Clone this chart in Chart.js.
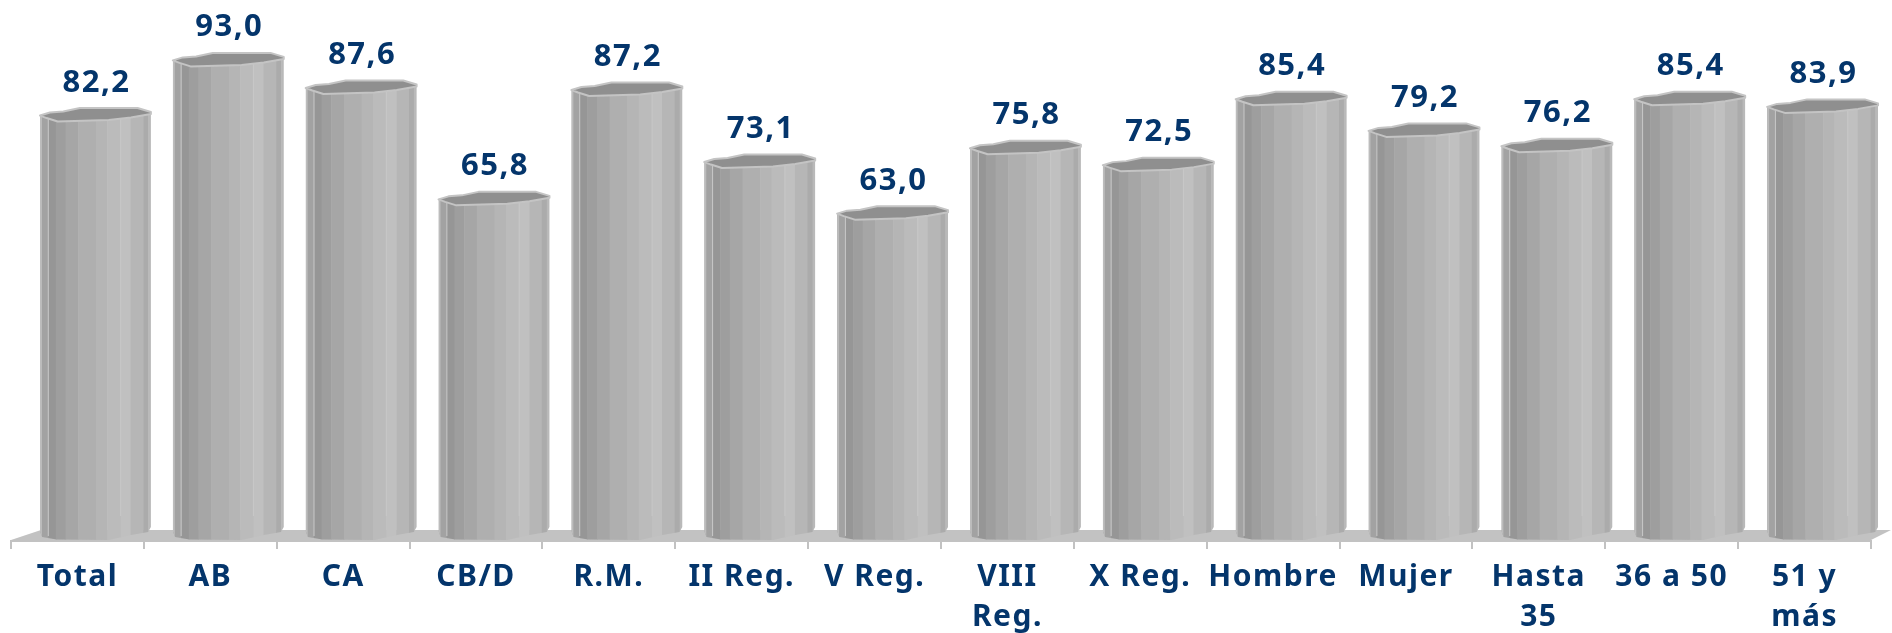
<!DOCTYPE html>
<html lang="es">
  <head>
    <meta charset="utf-8" />
    <title>Grafico de barras</title>
    <script src="https://cdn.jsdelivr.net/npm/chart.js"></script>
    <style>
      html, body { margin: 0; padding: 0; background: #fff; overflow: hidden; }
      .blocker { width: 1892px; height: 633px; }
    </style>
  </head>
  <body>
    <div class="blocker">
      <canvas id="myChart" width="1892" height="633"></canvas>
    </div>
    <script>
      const categories = ["Total", "AB", "CA", "CB/D", "R.M.", "II Reg.", "V Reg.", ["VIII", "Reg."], "X Reg.", "Hombre", "Mujer", ["Hasta", "35"], "36 a 50", ["51 y", "más"]];
      const values = [82.2, 93.0, 87.6, 65.8, 87.2, 73.1, 63.0, 75.8, 72.5, 85.4, 79.2, 76.2, 85.4, 83.9];

      const textColor = "#04356b";
      const floorColor = "#c2c2c2";
      const depthX = 18; // the 3d bars sit to the right of their category

      // vertical strips of the fake cylinder: [end of strip as fraction of width, colour]
      const strips = [
        [0.075, "#a2a2a2"], [0.144, "#969696"], [0.231, "#9e9e9e"], [0.345, "#a6a6a6"],
        [0.505, "#afafaf"], [0.607, "#b5b5b5"], [0.727, "#bbbbbb"], [0.817, "#c0c0c0"],
        [0.931, "#b6b6b6"], [0.976, "#ababab"], [1, "#b9b9b9"]
      ];
      // top face outline: [fraction of width, px from the value]
      const topFace = [[0, -5.5], [0.09, -8.5], [0.21, -9.5], [0.36, -13], [0.88, -13], [1, -9], [1, -7], [0.82, -3.5], [0.62, -1], [0.16, 0.5], [0.06, -3]];
      // bottom of the body, right to left: [fraction of width, px from the base]
      const bottomEdge = [[1, -14], [0.975, -9], [0.82, -6], [0.62, -1], [0.15, -1.5], [0.02, -4], [0, -10]];

      function drawBar(ctx, el, value) {
        const w = el.width;
        const left = el.x - w / 2 + depthX;
        const top = el.y;
        const base = el.base;

        // body, clipped to its curved bottom and the front of the top face
        ctx.save();
        ctx.beginPath();
        ctx.moveTo(left, top - 5);
        ctx.lineTo(left + w, top - 8);
        bottomEdge.forEach((p) => ctx.lineTo(left + p[0] * w, base + p[1]));
        ctx.closePath();
        ctx.clip();
        let from = 0;
        strips.forEach((s) => {
          ctx.fillStyle = s[1];
          ctx.fillRect(left + from * w, top - 13, (s[0] - from) * w + 0.5, base - top + 13);
          from = s[0];
        });
        // thin light lines and edges
        ctx.fillStyle = "#c8c8c8";
        ctx.fillRect(left + 0.075 * w - 0.5, top - 5, 1, base - top);
        ctx.fillRect(left + 0.727 * w - 0.5, top - 5, 1, base - top - 20);
        ctx.fillStyle = "#bcbcbc";
        ctx.fillRect(left, top - 5, 2, base - top);
        ctx.restore();

        // top face
        ctx.beginPath();
        topFace.forEach((p, i) => {
          const x = left + p[0] * w;
          const y = top + p[1];
          if (i === 0) ctx.moveTo(x, y);
          else ctx.lineTo(x, y);
        });
        ctx.closePath();
        ctx.fillStyle = "#8f8f8f";
        ctx.fill();
        ctx.lineJoin = "round";
        ctx.lineWidth = 2;
        ctx.strokeStyle = "#c4c4c4";
        ctx.stroke();

        // value label
        ctx.save();
        ctx.font = "bold 31px 'Noto Sans'";
        ctx.fillStyle = textColor;
        ctx.textAlign = "center";
        ctx.textBaseline = "alphabetic";
        ctx.fillText(value.toFixed(1).replace(".", ","), left + w / 2 + 1, top - 29.5);
        ctx.restore();
      }

      const cylinders = {
        id: "cylinders",
        beforeDraw(chart) {
          chart.ctx.letterSpacing = "1.5px";
        },
        beforeDatasetsDraw(chart) {
          // floor of the 3d plot
          const ctx = chart.ctx;
          const a = chart.chartArea;
          ctx.beginPath();
          ctx.moveTo(a.left, a.bottom - 1);
          ctx.lineTo(a.left + 30, a.bottom - 11);
          ctx.lineTo(a.right + 20, a.bottom - 11);
          ctx.lineTo(a.right, a.bottom - 1);
          ctx.closePath();
          ctx.fillStyle = floorColor;
          ctx.fill();
        },
        beforeDatasetDraw(chart, args) {
          const ctx = chart.ctx;
          args.meta.data.forEach((el, i) => drawBar(ctx, el, values[i]));
          return false;
        },
      };

      new Chart(document.getElementById("myChart"), {
        type: "bar",
        data: {
          labels: categories,
          datasets: [
            {
              data: values,
              backgroundColor: "#b0b0b0",
              categoryPercentage: 1,
              barPercentage: 0.835,
            },
          ],
        },
        plugins: [cylinders],
        options: {
          responsive: false,
          animation: false,
          layout: {
            padding: { left: 11, right: 21, top: 0, bottom: 0 },
          },
          plugins: {
            legend: { display: false },
            tooltip: { enabled: false },
          },
          scales: {
            y: {
              display: false,
              min: 0,
              max: 105.9,
            },
            x: {
              afterFit(scale) {
                scale.height = 92;
              },
              border: { color: floorColor, width: 2 },
              grid: { drawOnChartArea: false, color: floorColor, lineWidth: 2, tickLength: 8 },
              ticks: {
                autoSkip: false,
                maxRotation: 0,
                minRotation: 0,
                padding: 8,
                color: textColor,
                font: { family: "'Noto Sans'", size: 30, weight: "bold", lineHeight: 1.34 },
              },
            },
          },
        },
      });
    </script>
  </body>
</html>
